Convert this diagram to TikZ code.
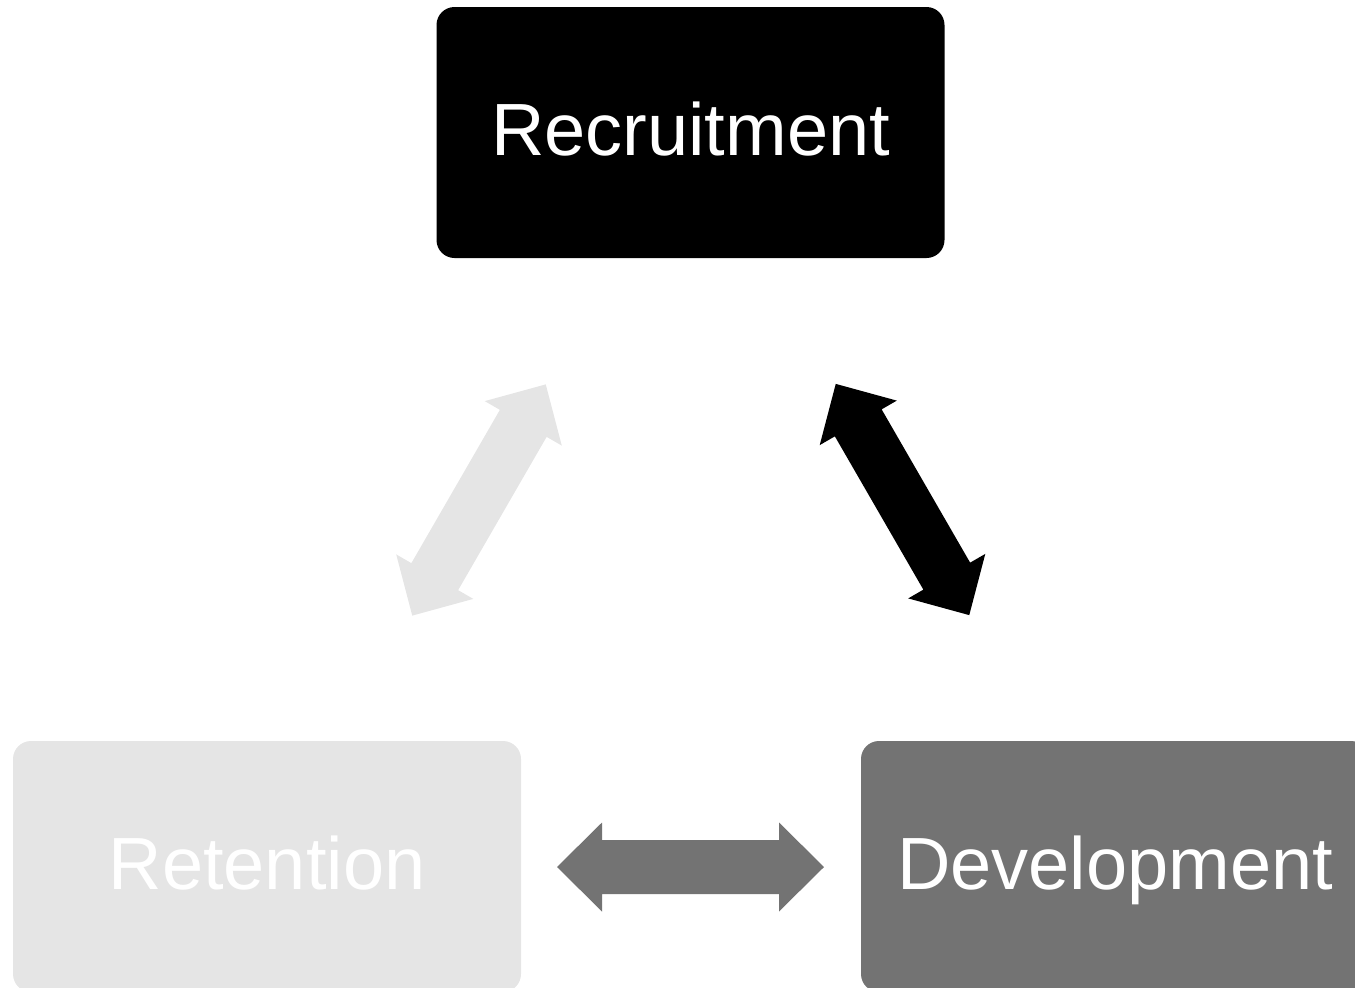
\documentclass[tikz,border=0pt]{standalone}
\usepackage{fontspec}
\setmainfont{Liberation Sans}
\definecolor{lightgr}{HTML}{E5E5E5}
\definecolor{midgr}{HTML}{737373}
\tikzset{
  stagebox/.style={rectangle, rounded corners=18pt, minimum width=508pt, minimum height=251pt,
    inner sep=0pt, text=white, font=\fontsize{74}{88}\selectfont, text height=45pt, text depth=0pt},
  dblarrow/.pic={
    \fill[pic actions] (-133.5,0) -- (-88.5,44.5) -- (-88.5,27) -- (88.5,27) -- (88.5,44.5)
      -- (133.5,0) -- (88.5,-44.5) -- (88.5,-27) -- (-88.5,-27) -- (-88.5,-44.5) -- cycle;
  }
}
\begin{document}
\begin{tikzpicture}[x=1pt,y=-1pt]
\useasboundingbox (0,0) rectangle (1355,988);
\node[stagebox, fill=black] (recr) at (690.5,132.5) {Recruitment};
\node[stagebox, fill=lightgr] (ret) at (267,866.5) {Retention};
\node[stagebox, fill=midgr] (dev) at (1115,866.5) {Development};
\coordinate (aLeft) at (479,500);
\coordinate (aRight) at (902.5,499.5);
\coordinate (aBottom) at (690.5,867);
\pic[fill=lightgr, rotate=60] at (aLeft) {dblarrow};
\pic[fill=black, rotate=120] at (aRight) {dblarrow};
\pic[fill=midgr] at (aBottom) {dblarrow};
\end{tikzpicture}
\end{document}
